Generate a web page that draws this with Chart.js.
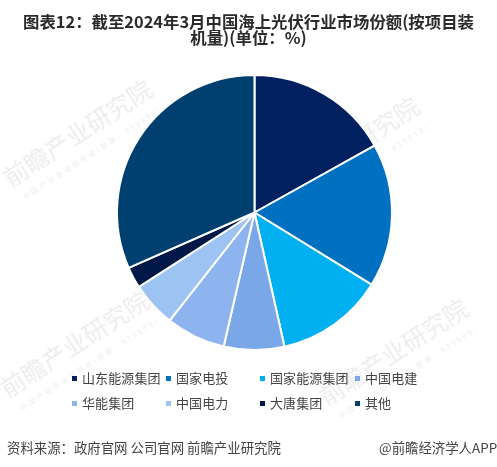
<!DOCTYPE html>
<html>
<head>
<meta charset="utf-8">
<script src="https://cdn.jsdelivr.net/npm/chart.js@4"></script>
<style>
  body { margin: 0; background: #fff; font-family: "Noto Sans CJK SC", sans-serif; overflow: hidden; }
  #wrap { position: relative; width: 497px; height: 467px; overflow: hidden; }
  #myChart { position: absolute; left: 0; top: 0; }
  .title { position: absolute; left: 0; width: 497px; text-align: center; font-weight: bold; font-size: 16.4px; line-height: 17px; color: #2a2a2a; white-space: nowrap; }
  .item { position: absolute; font-size: 13px; line-height: 16px; color: #444; letter-spacing: 0.1px; white-space: nowrap; }
  .box { position: absolute; width: 5px; height: 5px; }
  .foot { position: absolute; font-size: 13.4px; line-height: 16px; color: #444; white-space: nowrap; }
  .mark { position: absolute; color: #eeeef1; font-size: 24.5px; line-height: 28px; white-space: nowrap; transform: rotate(-33deg); transform-origin: left bottom; }
  .sub { position: absolute; color: #efeff2; font-size: 7.5px; line-height: 10px; letter-spacing: 2.2px; white-space: nowrap; transform: rotate(-33deg); transform-origin: left bottom; }
</style>
</head>
<body>
<div id="wrap">
  <div class="mark" style="left:13px;top:163px">前瞻产业研究院</div>
  <div class="sub" style="left:26px;top:192px">中国产业咨询领导者(股票：839599)</div>
  <div class="mark" style="left:10px;top:374px">前瞻产业研究院</div>
  <div class="sub" style="left:23px;top:403px">中国产业咨询领导者(股票：839599)</div>
  <div class="mark" style="left:280px;top:180px">前瞻产业研究院</div>
  <div class="sub" style="left:293px;top:209px">中国产业咨询领导者(股票：839599)</div>
  <div class="mark" style="left:329px;top:382px">前瞻产业研究院</div>
  <div class="sub" style="left:342px;top:411px">中国产业咨询领导者(股票：839599)</div>
  <canvas id="myChart" width="497" height="467"></canvas>
  <div class="title" style="top:13px">图表12：截至2024年3月中国海上光伏行业市场份额(按项目装</div>
  <div class="title" style="top:29px">机量)(单位：%)</div>
  <div class="foot" style="left:7px;top:439px">资料来源：政府官网 公司官网 前瞻产业研究院</div>
  <div class="foot" style="left:379px;top:439px">@前瞻经济学人APP</div>
</div>
<script>
const labels = ["山东能源集团", "国家电投", "国家能源集团", "中国电建", "华能集团", "中国电力", "大唐集团", "其他"];
const shares = [16.9, 16.9, 12.7, 7.1, 7.0, 5.3, 2.5, 31.6];
const colors = ["#002060", "#0070C0", "#00B0F0", "#7AA7E8", "#8DB4EE", "#9DC3F2", "#001848", "#004070"];

const legendX = [74, 168, 262, 357];
const legendY = [378, 403];

(function main() {
  plotChart();
  drawLegend();
})();

function plotChart() {
  const ctx = document.getElementById("myChart");
  new Chart(ctx, {
    type: "pie",
    data: {
      labels,
      datasets: [
        {
          data: shares,
          backgroundColor: colors,
          borderColor: "#fff",
          borderWidth: 2,
        },
      ],
    },
    options: {
      responsive: false,
      animation: false,
      layout: { padding: { left: 12, top: 74, bottom: 116, right: 0 } },
      plugins: {
        legend: { display: false },
        tooltip: { enabled: false },
      },
    },
  });
}

function drawLegend() {
  const wrap = document.getElementById("wrap");
  labels.forEach((label, i) => {
    const x = legendX[i % 4];
    const y = legendY[Math.floor(i / 4)];
    const box = document.createElement("div");
    box.className = "box";
    box.style.cssText = `left:${x - 2}px;top:${y - 2}px;background:${colors[i]}`;
    const text = document.createElement("div");
    text.className = "item";
    text.style.cssText = `left:${x + 8}px;top:${y - 8}px`;
    text.textContent = label;
    wrap.appendChild(box);
    wrap.appendChild(text);
  });
}
</script>
</body>
</html>
